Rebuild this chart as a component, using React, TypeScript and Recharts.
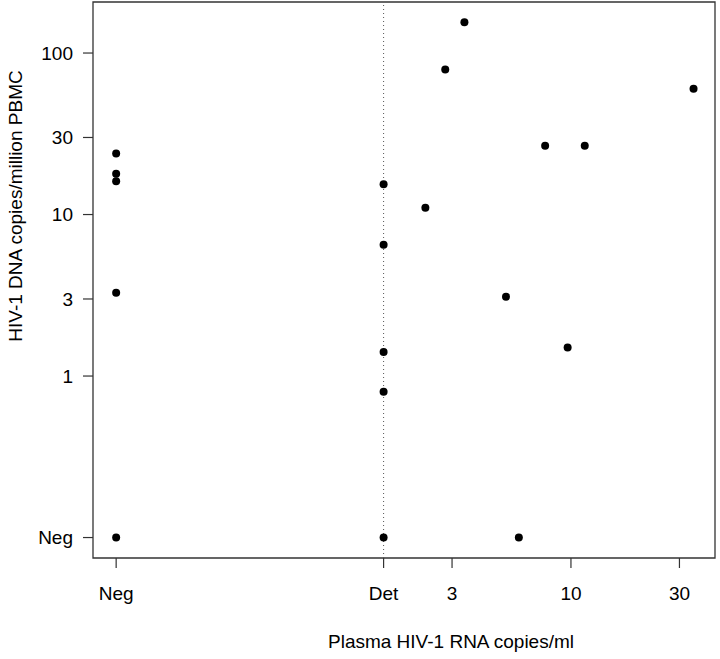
import { ScatterChart, Scatter, XAxis, YAxis, ReferenceArea, ReferenceLine, Label } from 'recharts';

// coded values: 0.1 = "Neg", 1.5 = "Det" on the RNA axis
const NEG = 0.1;
const DET = 1.5;

const xTickValues = [NEG, DET, 3, 10, 30];
const xTickLabels = ['Neg', 'Det', '3', '10', '30'];
const yTickValues = [NEG, 1, 3, 10, 30, 100];
const yTickLabels = ['Neg', '1', '3', '10', '30', '100'];

const rnaCopies = [3.4, 2.8, 34.6, 7.7, 11.5, DET, 2.29, DET, 5.18, 9.67, DET, DET, 5.9, DET, NEG, NEG, NEG, NEG, NEG];
const dnaCopies = [155, 79, 60, 26.7, 26.7, 15.4, 11.0, 6.5, 3.1, 1.5, 1.41, 0.8, NEG, NEG, 23.9, 17.9, 16.1, 3.28, NEG];

const xDomain = [0.0791, 43];
const yDomain = [0.0747, 207];

const points = rnaCopies.map((rna, i) => ({ rna, dna: dnaCopies[i] }));

const font = '"Liberation Sans", Arial, Helvetica, sans-serif';
const ink = '#333';

const fmtX = (v: number) => xTickLabels[xTickValues.indexOf(v)] ?? String(v);
const fmtY = (v: number) => yTickLabels[yTickValues.indexOf(v)] ?? String(v);

const Dot = (props: any) => <circle cx={props.cx} cy={props.cy} r={4} fill="#000" />;

export default function App() {
  return (
    <div style={{ position: 'absolute', left: 0, top: 0, width: 720, height: 659, background: '#fff' }}>
      <ScatterChart width={720} height={659} margin={{ top: 2, right: 5, bottom: 0, left: 0 }}>
        <XAxis
          dataKey="rna"
          type="number"
          scale="log"
          domain={xDomain}
          allowDataOverflow
          ticks={xTickValues}
          tickFormatter={fmtX}
          interval={0}
          height={101}
          axisLine={false}
          tickSize={10}
          tickMargin={19}
          tickLine={{ stroke: ink, strokeWidth: 1.2 }}
          tick={{ fill: '#000', fontSize: 19, fontFamily: font }}
        >
          <Label
            content={(p: any) => (
              <text
                x={p.viewBox.x + p.viewBox.width / 2 + 47}
                y={p.viewBox.y + 90}
                textAnchor="middle"
                fontSize={19}
                fontFamily={font}
                fill="#000"
              >
                Plasma HIV-1 RNA copies/ml
              </text>
            )}
          />
        </XAxis>
        <YAxis
          dataKey="dna"
          type="number"
          scale="log"
          domain={yDomain}
          allowDataOverflow
          ticks={yTickValues}
          tickFormatter={fmtY}
          interval={0}
          width={93}
          axisLine={false}
          tickSize={10}
          tickMargin={10}
          tickLine={{ stroke: ink, strokeWidth: 1.2 }}
          tick={{ fill: '#000', fontSize: 19, fontFamily: font }}
        >
          <Label
            content={(p: any) => {
              const cx = 22;
              const cy = p.viewBox.y + p.viewBox.height / 2 - 74;
              return (
                <text
                  x={cx}
                  y={cy}
                  transform={`rotate(-90 ${cx} ${cy})`}
                  textAnchor="middle"
                  fontSize={19}
                  fontFamily={font}
                  fill="#000"
                >
                  HIV-1 DNA copies/million PBMC
                </text>
              );
            }}
          />
        </YAxis>
        <ReferenceLine x={DET} stroke="#555" strokeDasharray="1 3" strokeWidth={1} ifOverflow="extendDomain" />
        <ReferenceArea
          x1={xDomain[0]}
          x2={xDomain[1]}
          y1={yDomain[0]}
          y2={yDomain[1]}
          fill="none"
          fillOpacity={0}
          stroke={ink}
          strokeWidth={1.3}
          ifOverflow="visible"
        />
        <Scatter data={points} shape={Dot} isAnimationActive={false} />
      </ScatterChart>
    </div>
  );
}
